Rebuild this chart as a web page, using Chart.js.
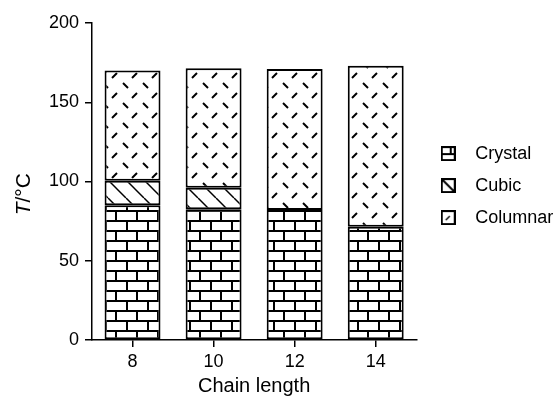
<!DOCTYPE html>
<html>
<head>
<meta charset="utf-8">
<script src="https://cdn.jsdelivr.net/npm/chart.js@4"></script>
<style>
  html, body { margin: 0; padding: 0; background: #fff; }
  #wrap { width: 556px; height: 396px; }
</style>
</head>
<body>
<div id="wrap"><canvas id="c" width="556" height="396"></canvas></div>
<script>
'use strict';

// transition temperatures (°C), per chain length
const chainLengths = ['8', '10', '12', '14'];
const crystalTop   = [85, 82.5, 82, 71.5];      // crystal -> cubic / columnar
const cubicTop     = [100.5, 96, 82, 71.5];     // cubic -> columnar
const clearingTop  = [170, 171.5, 171, 173];    // columnar -> isotropic
const yTicks       = [0, 50, 100, 150, 200];
const seriesNames  = ['Crystal', 'Cubic', 'Columnar'];

const FONT = '"Liberation Sans", Arial, sans-serif';
Chart.defaults.font.family = FONT;
Chart.defaults.color = '#000';

const ctx = document.getElementById('c').getContext('2d');

function tile(w, h, draw) {
    const c = document.createElement('canvas');
    c.width = w; c.height = h;
    const g = c.getContext('2d');
    g.fillStyle = '#fff';
    g.fillRect(0, 0, w, h);
    g.fillStyle = '#000';
    g.strokeStyle = '#000';
    draw(g);
    return c;
}

// brick wall
const brick = ctx.createPattern(tile(21, 20, g => {
    g.fillRect(0, 0, 21, 2);
    g.fillRect(0, 10, 21, 2);
    g.fillRect(0, 0, 2, 10);
    g.fillRect(10, 10, 2, 10);
}), 'repeat');

// diagonal hatch "\"
const hatch = ctx.createPattern(tile(18, 18, g => {
    g.lineWidth = 1.5;
    for (const k of [-18, 0, 18]) {
        g.beginPath(); g.moveTo(k, 0); g.lineTo(k + 18, 18); g.stroke();
    }
}), 'repeat');

// short dashes, alternating "\" and "/"
const dashes = ctx.createPattern(tile(20, 20, g => {
    g.lineWidth = 2;
    g.beginPath(); g.moveTo(3, 3); g.lineTo(8, 8); g.stroke();
    g.beginPath(); g.moveTo(12, 18); g.lineTo(17, 13); g.stroke();
}), 'repeat');

function icon(draw) {
    return tile(15, 15, g => {
        g.lineWidth = 2;
        g.strokeRect(1, 1, 13, 13);
        draw(g);
    });
}
const icons = [
    icon(g => { g.fillRect(1, 7, 13, 2); g.fillRect(9, 1, 2, 7); }),
    icon(g => { g.lineWidth = 2; g.beginPath(); g.moveTo(2, 2); g.lineTo(13, 13); g.stroke(); }),
    icon(g => { g.lineWidth = 1.5; g.beginPath(); g.moveTo(5, 10); g.lineTo(9, 6); g.stroke(); })
];

const spans = (lo, hi) => lo.map((v, i) => [v, hi[i]]);
const zeros = chainLengths.map(() => 0);

const barStyle = {
    grouped: false,
    barPercentage: 0.69,
    categoryPercentage: 1,
    borderColor: '#000',
    borderWidth: 2,
    borderSkipped: false
};

// y-axis title with italic T
const yTitle = {
    id: 'yTitle',
    afterDraw(chart) {
        const c = chart.ctx;
        const cy = chart.scales.y.getPixelForValue(92);
        c.save();
        c.translate(24, cy);
        c.rotate(-Math.PI / 2);
        c.fillStyle = '#000';
        c.textBaseline = 'middle';
        c.font = 'italic 21px ' + FONT;
        const w1 = c.measureText('T').width;
        c.font = '21px ' + FONT;
        const w2 = c.measureText('/°C').width;
        const x0 = -(w1 + w2) / 2;
        c.font = 'italic 21px ' + FONT;
        c.fillText('T', x0, 0);
        c.font = '21px ' + FONT;
        c.fillText('/°C', x0 + w1, 0);
        c.restore();
    }
};

new Chart(ctx, {
    type: 'bar',
    data: {
        labels: chainLengths,
        datasets: [
            { label: seriesNames[0], data: spans(zeros, crystalTop),      backgroundColor: brick,  ...barStyle },
            { label: seriesNames[1], data: spans(crystalTop, cubicTop),   backgroundColor: hatch,  ...barStyle },
            { label: seriesNames[2], data: spans(cubicTop, clearingTop),  backgroundColor: dashes, ...barStyle }
        ]
    },
    options: {
        responsive: false,
        animation: false,
        layout: { padding: { top: 23, right: 1, bottom: 0, left: 0 } },
        plugins: {
            tooltip: { enabled: false },
            legend: {
                position: 'right',
                fullSize: false,
                align: 'center',
                title: { display: true, text: '', font: { size: 1 }, padding: { top: 3, bottom: 4 } },
                labels: {
                    usePointStyle: true,
                    pointStyleWidth: 36,
                    padding: 14,
                    color: '#000',
                    font: { size: 18 },
                    generateLabels: chart => chart.data.datasets.map((d, i) => ({
                        text: d.label, pointStyle: icons[i], datasetIndex: i,
                        hidden: false, lineWidth: 0, fontColor: '#000'
                    }))
                }
            }
        },
        scales: {
            x: {
                offset: true,
                border: { display: true, color: '#000', width: 1.5 },
                grid: { offset: false, drawOnChartArea: false, tickLength: 7, color: '#000', lineWidth: 1.5 },
                ticks: { color: '#000', padding: 4, font: { size: 18 } },
                title: { display: true, text: 'Chain length', color: '#000',
                         font: { size: 20, lineHeight: 1 }, padding: { top: 0, bottom: 0 } },
                afterFit: s => { s.height = 56; }
            },
            y: {
                min: 0, max: 200,
                afterBuildTicks: s => { s.ticks = yTicks.map(v => ({ value: v })); },
                border: { display: true, color: '#000', width: 1.5 },
                grid: { drawOnChartArea: false, tickLength: 7, color: '#000', lineWidth: 1.5 },
                ticks: { color: '#000', padding: 6, font: { size: 18 } },
                afterFit: s => { s.width = 92; }
            }
        }
    },
    plugins: [yTitle]
});
</script>
</body>
</html>
